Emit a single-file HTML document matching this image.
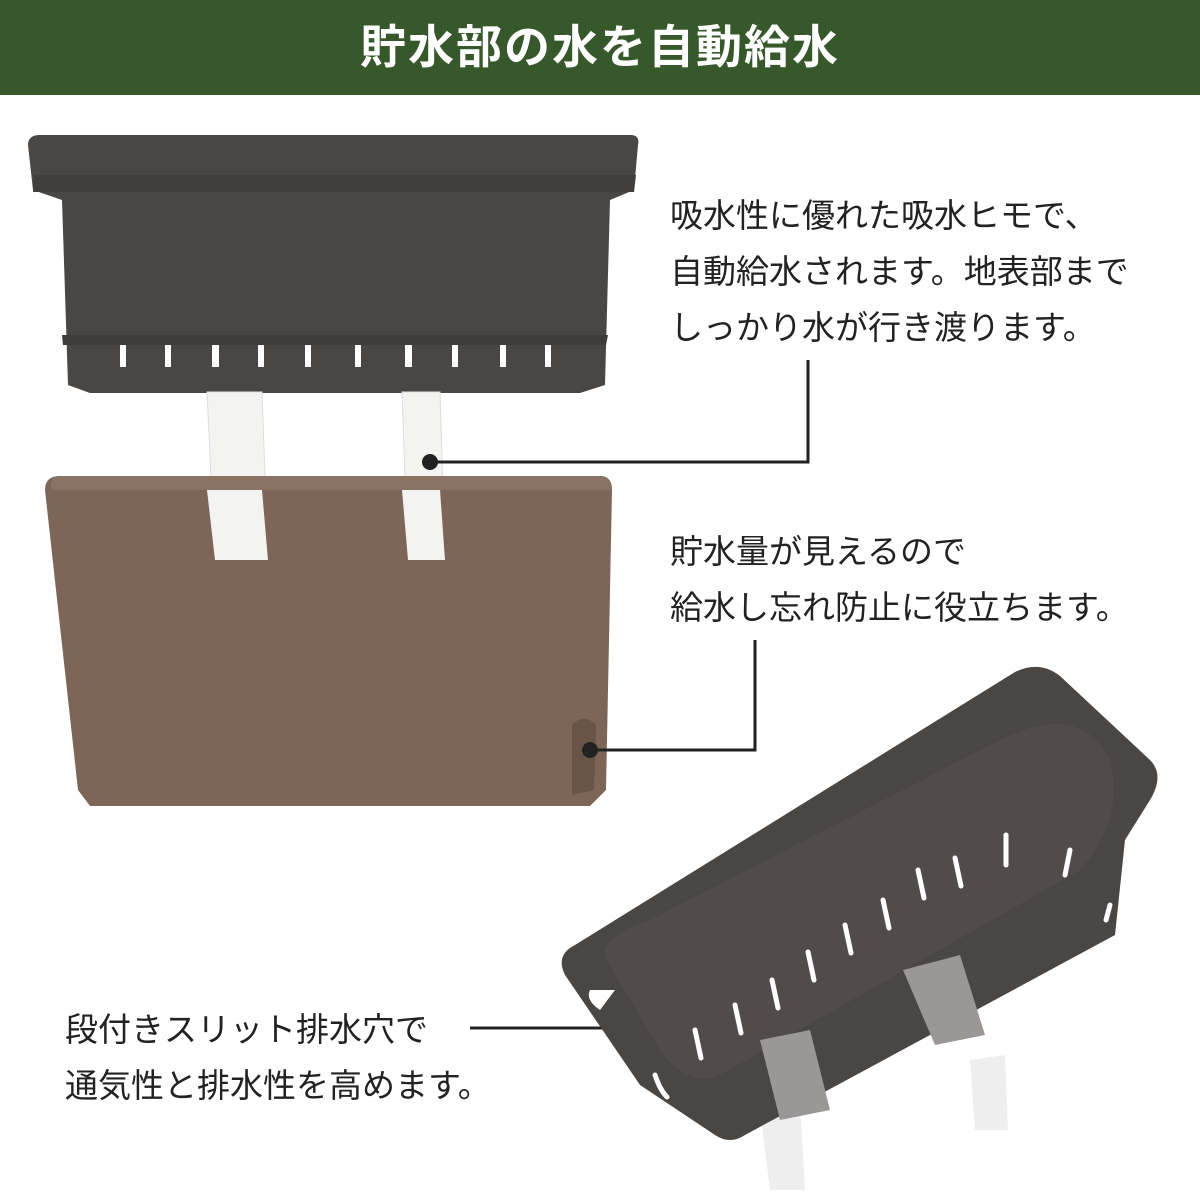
<!DOCTYPE html>
<html><head><meta charset="utf-8"><style>
body{margin:0;width:1200px;height:1200px;background:#fff;position:relative;overflow:hidden;font-family:"Liberation Sans","Noto Sans CJK JP",sans-serif}
.hdr{position:absolute;left:0;top:0;width:1200px;height:95px;background:#37582b;color:#fff;font-size:46px;font-weight:bold;text-align:center;line-height:95px;letter-spacing:2px}
.t{position:absolute;font-size:33px;color:#222;line-height:56px;white-space:nowrap}
</style></head><body>
<div class="hdr">貯水部の水を自動給水</div>
<svg width="1200" height="1200" style="position:absolute;left:0;top:0">
<!-- top basket -->
<path d="M38 135 L632 135 Q640 136 638 145 L634 190 L610 200 L605 385 L580 393 L90 393 L68 385 L62 200 L33 190 L28 145 Q28 136 38 135 Z" fill="#4a4644"/>
<path d="M34 175 L636 175 L634 192 L33 192 Z" fill="#423e3c"/>
<path d="M62 335 L608 335 L606 345 L63 345 Z" fill="#403c3a"/>
<g fill="#fff">
<rect x="120" y="345" width="6" height="22"/><rect x="165" y="345" width="6" height="22"/><rect x="212" y="345" width="7" height="22"/><rect x="258" y="345" width="6" height="22"/><rect x="305" y="345" width="6" height="22"/><rect x="355" y="345" width="6" height="22"/><rect x="405" y="345" width="7" height="22"/><rect x="452" y="345" width="6" height="22"/><rect x="500" y="345" width="6" height="22"/><rect x="545" y="345" width="6" height="22"/>
</g>
<!-- straps -->
<path d="M207 392 L262 392 L268 560 L215 560 Z" fill="#f3f3f1" stroke="#ddd"/>
<path d="M402 392 L440 392 L445 560 L408 560 Z" fill="#f3f3f1" stroke="#ddd"/>
<!-- reservoir -->
<path d="M60 476 L600 476 Q612 476 612 490 L606 790 L590 806 L90 806 L78 790 L45 490 Q45 476 60 476 Z" fill="#7d6657"/>
<path d="M60 476 L600 476 Q612 476 612 490 L52 490 Q48 478 60 476 Z" fill="#8a7264"/>
<path d="M207 490 L262 490 L268 560 L215 560 Z" fill="#f3f3f1"/>
<path d="M402 490 L440 490 L445 560 L408 560 Z" fill="#f3f3f1"/>
<path d="M572 725 Q584 712 596 725 L594 790 L572 795 Z" fill="#6a5347"/>
<!-- leaders -->
<path d="M430 462 L808 462 L808 360" stroke="#222" stroke-width="3" fill="none"/>
<circle cx="430" cy="462" r="8" fill="#222"/>
<path d="M590 750 L755 750 L755 640" stroke="#222" stroke-width="3" fill="none"/>
<circle cx="590" cy="750" r="8" fill="#222"/>
<path d="M470 1028 L650 1028" stroke="#222" stroke-width="3"/>
<circle cx="650" cy="1028" r="8" fill="#222"/>
<!-- bottom basket -->
<path d="M760 1110 L800 1105 L805 1190 L770 1190 Z" fill="#eee"/>
<path d="M970 1060 L1005 1055 L1008 1130 L975 1130 Z" fill="#eee"/>
<path d="M575 945 L1015 672 Q1040 660 1060 676 L1150 760 Q1165 775 1150 800 L1125 840 L1115 935 L745 1135 Q730 1145 715 1135 L640 1085 L565 975 Q555 955 575 945 Z" fill="#4a4644"/>
<path d="M610 965 Q590 940 650 920 L1000 740 Q1080 700 1110 760 Q1125 820 1080 870 L720 1075 Q690 1090 660 1050 Z" fill="#514c4a"/>
<path d="M760 1040 L810 1030 L830 1110 L780 1120 Z" fill="#9b9796"/>
<path d="M903 970 L960 955 L985 1035 L935 1045 Z" fill="#9b9796"/>
<g stroke="#fff" stroke-width="5" fill="none" stroke-linecap="round">
<path d="M655 1075 q5 15 12 22"/><path d="M695 1030 l6 28"/><path d="M735 1005 l6 28"/><path d="M772 980 l6 28"/><path d="M808 952 l6 28"/><path d="M845 925 l6 28"/><path d="M883 900 l6 28"/><path d="M918 870 l6 28"/><path d="M955 858 l6 28"/><path d="M1006 835 l0 30"/><path d="M1070 850 l-5 25"/><path d="M1110 905 l-4 15"/>
</g>
<path d="M590 990 Q600 990 615 990 L600 1010 Q585 1000 590 990 Z" fill="#fff"/>
</svg>
<div class="t" style="left:670px;top:188px">吸水性に優れた吸水ヒモで、<br>自動給水されます。地表部まで<br>しっかり水が行き渡ります。</div>
<div class="t" style="left:670px;top:524px">貯水量が見えるので<br>給水し忘れ防止に役立ちます。</div>
<div class="t" style="left:65px;top:1002px">段付きスリット排水穴で<br>通気性と排水性を高めます。</div>
</body></html>
